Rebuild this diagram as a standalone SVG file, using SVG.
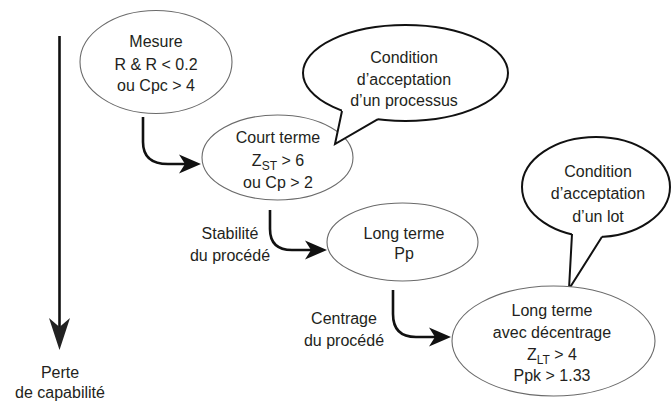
<svg xmlns="http://www.w3.org/2000/svg" width="672" height="401" viewBox="0 0 672 401">
<style>
text{font-family:"Liberation Sans","DejaVu Sans",Arial,sans-serif;font-size:16px;fill:#231f20;text-anchor:middle}
.sub{font-size:12px}
.node{fill:#fff;stroke:#6a6a6a;stroke-width:1.1}
.bub{fill:#fff;stroke:#111;stroke-width:2}
.tailfill{fill:#fff;stroke:none}
.tail{fill:none;stroke:#111;stroke-width:2;stroke-linejoin:miter}
.conn{fill:none;stroke:#111;stroke-width:2.6}
</style>
<defs>
<marker id="ah" viewBox="0 0 22 20" refX="12" refY="10" markerWidth="22" markerHeight="20" markerUnits="userSpaceOnUse" orient="auto">
<path d="M22,10 L0,0.5 L6,10 L0,19.5 Z" fill="#111"/>
</marker>
<marker id="ahBig" viewBox="0 0 32 21" refX="22" refY="10.5" markerWidth="32" markerHeight="21" markerUnits="userSpaceOnUse" orient="auto">
<path d="M32,10.5 L0,0 L9,10.5 L0,21 Z" fill="#222"/>
</marker>
</defs>

<g id="connectors">
<path class="conn" d="M59.5,36 V340" stroke-width="4.6" stroke="#222" marker-end="url(#ahBig)"/>
<path class="conn" d="M143,117 V142 Q143,164 168,164 H191" marker-end="url(#ah)"/>
<path class="conn" d="M270,210 V229 Q270,250 292,250 H317" marker-end="url(#ah)"/>
<path class="conn" d="M393,290 V314 Q393,337 416,337 H441" marker-end="url(#ah)"/>
</g>

<g id="mesure">
<ellipse class="node" cx="156" cy="62" rx="76" ry="51.5"/>
<text x="156" y="47">Mesure</text>
<text x="156" y="69.5">R &amp; R &lt; 0.2</text>
<text x="156" y="91">ou Cpc &gt; 4</text>
</g>

<g id="court-terme">
<ellipse class="node" cx="277.5" cy="157.5" rx="75.5" ry="42.5"/>
<text x="278" y="143">Court terme</text>
<text x="278" y="165.5">Z<tspan class="sub" dy="4">ST</tspan><tspan dy="-4"> &gt; 6</tspan></text>
<text x="278" y="187.5">ou Cp &gt; 2</text>
</g>

<g id="bulle-processus">
<ellipse class="bub" cx="405.5" cy="73" rx="102.5" ry="48"/>
<path class="tailfill" d="M342,111 L335,144 L378,119.2 L378,110 L342,104 Z"/>
<path class="tail" d="M342,111 L335,144 L378,119.2"/>
<text x="404" y="62.5">Condition</text>
<text x="404" y="84.5">d’acceptation</text>
<text x="404" y="106">d’un processus</text>
</g>

<g id="stabilite">
<text x="230" y="238.5">Stabilité</text>
<text x="230" y="260.5">du procédé</text>
</g>

<g id="long-terme">
<ellipse class="node" cx="402.5" cy="242" rx="75.5" ry="39"/>
<text x="404" y="238.5">Long terme</text>
<text x="404" y="259">Pp</text>
</g>

<g id="centrage">
<text x="344" y="323.5">Centrage</text>
<text x="344" y="345.5">du procédé</text>
</g>

<g id="bulle-lot">
<ellipse class="bub" cx="596" cy="187" rx="74" ry="50"/>
<path class="tailfill" d="M572,234 L569,289 L602,236.8 L602,228 L572,226 Z"/>
<path class="tail" d="M572,234 L569,289 L602,236.8"/>
<text x="598" y="177">Condition</text>
<text x="598" y="199">d’acceptation</text>
<text x="598" y="221.5">d’un lot</text>
</g>

<g id="long-terme-decentrage">
<ellipse class="node" cx="553.5" cy="341" rx="101.5" ry="55"/>
<text x="552" y="315.5">Long terme</text>
<text x="552" y="337.5">avec décentrage</text>
<text x="552" y="360">Z<tspan class="sub" dy="4">LT</tspan><tspan dy="-4"> &gt; 4</tspan></text>
<text x="552" y="380.5">Ppk &gt; 1.33</text>
</g>

<g id="perte">
<text x="60" y="377.5">Perte</text>
<text x="60" y="397.5">de capabilité</text>
</g>
</svg>
